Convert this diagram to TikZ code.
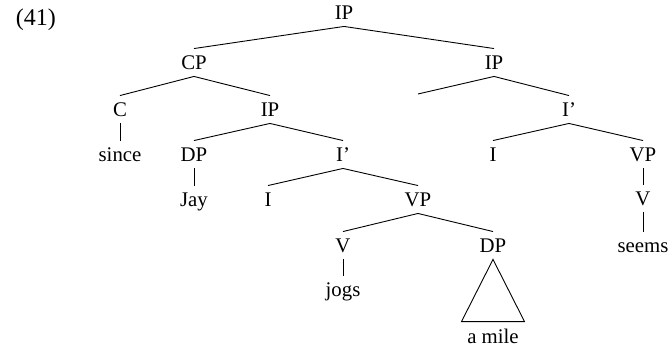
\documentclass[tikz,border=0pt]{standalone}
\usepackage{fontspec}
\setmainfont{Liberation Serif}
\usetikzlibrary{positioning}

\begin{document}
\begin{tikzpicture}[-,
					x=1pt, y=1pt,
					on grid,
					line width=0.9pt,
					font=\fontsize{20.8}{25}\selectfont,
					cat node/.style={inner xsep=0pt, inner ysep=6pt,
					                 text height=15pt, text depth=0pt}]

  \useasboundingbox (0,0) rectangle (669,-347);

  \node[anchor=base west, font=\fontsize{24}{28}\selectfont] (ex) at (12,-26) {(41)};

  % left branch
  \node[cat node] (IP) at (344,-12.5) {IP};
  \node[cat node] (CP) [below left=50pt and 150pt of IP] {CP};
  \node[cat node] (C) [below left=47pt and 74pt of CP] {C};
  \node[cat node] (since) [below=45pt of C] {since};
  \node[cat node] (IPc) [below right=47pt and 76pt of CP] {IP};
  \node[cat node] (DP) [below left=45pt and 76pt of IPc] {DP};
  \node[cat node] (Jay) [below=45pt of DP] {Jay};
  \node[cat node] (Ic) [below right=45pt and 73pt of IPc] {I'};
  \node[cat node] (I) [below left=45pt and 75pt of Ic] {I};
  \node[cat node] (VP) [below right=45pt and 75pt of Ic] {VP};
  \node[cat node] (V) [below left=46pt and 75pt of VP] {V};
  \node[cat node] (jogs) [below=44pt of V] {jogs};
  \node[cat node] (DPo) [below right=46pt and 75pt of VP] {DP};
  \node[cat node] (mile) [below=90pt of DPo] {a mile};

  % right branch
  \node[cat node] (IPb) [below right=50pt and 150pt of IP] {IP};
  \coordinate[below left=31.5pt and 76pt of IPb] (spec);
  \node[cat node] (Ib) [below right=47pt and 75pt of IPb] {I'};
  \node[cat node] (Ir) [below left=45pt and 76pt of Ib] {I};
  \node[cat node] (VPr) [below right=45pt and 74pt of Ib] {VP};
  \node[cat node] (Vr) [below=44pt of VPr] {V};
  \node[cat node] (seems) [below=47pt of Vr] {seems};

  \path
    (IP.south) edge (CP.north)
               edge (IPb.north)
    (CP.south) edge (C.north)
               edge (IPc.north)
    (C.south) edge (since.north)
    (IPc.south) edge (DP.north)
                edge (Ic.north)
    (DP.south) edge (Jay.north)
    (Ic.south) edge (I.north)
               edge (VP.north)
    (VP.south) edge (V.north)
               edge (DPo.north)
    (V.south) edge (jogs.north)
    (IPb.south) edge (spec)
                edge (Ib.north)
    (Ib.south) edge (Ir.north)
               edge (VPr.north)
    (VPr.south) edge (Vr.north)
    (Vr.south) edge (seems.north)
;

  \draw (DPo.south) -- ([xshift=-31.5pt]mile.north)
        -- ([xshift=31.5pt]mile.north) -- cycle;
\end{tikzpicture}
\end{document}
